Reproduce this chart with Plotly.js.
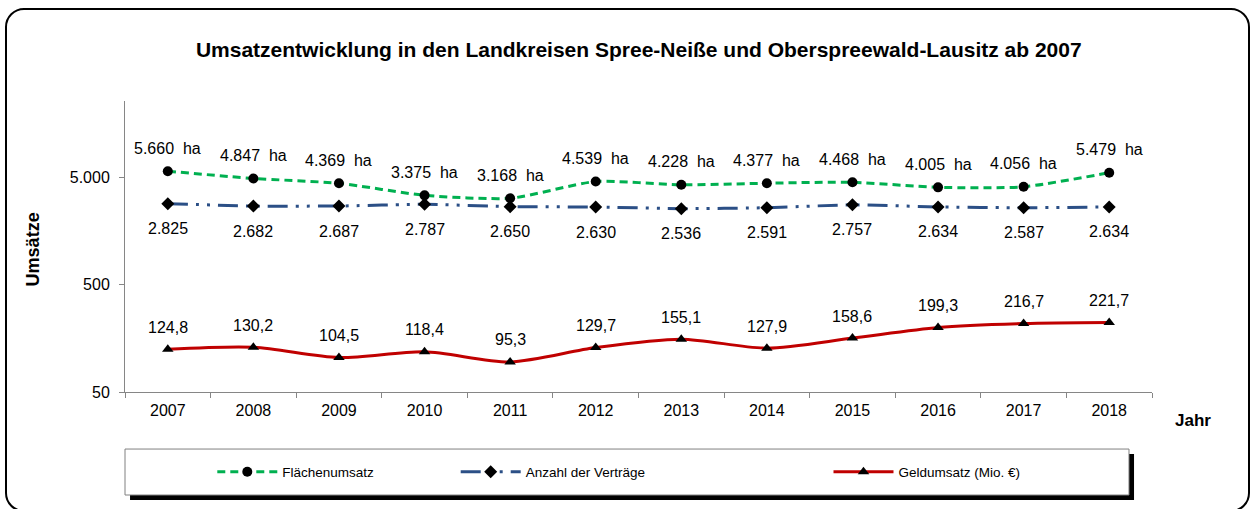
<!DOCTYPE html>
<html>
<head>
<meta charset="utf-8">
<script src="https://cdn.plot.ly/plotly-3.0.1.min.js"></script>
<style>
  html, body { margin: 0; padding: 0; background: #fff; }
  #wrap { position: relative; width: 1250px; height: 509px; overflow: hidden; }
  #chart { position: absolute; left: 0; top: 0; width: 1250px; height: 509px; }
  #frame { position: absolute; left: 5px; top: 8px; width: 1245px; height: 504px; box-sizing: border-box;
           border: 2px solid #000; border-radius: 19px; pointer-events: none; }
</style>
</head>
<body>
<div id="wrap">
  <div id="chart"></div>
  <div id="frame"></div>
</div>
<script>
const years = ['2007','2008','2009','2010','2011','2012','2013','2014','2015','2016','2017','2018'];
const flaechenumsatz = [5660, 4847, 4369, 3375, 3168, 4539, 4228, 4377, 4468, 4005, 4056, 5479];
const anzahlVertraege = [2825, 2682, 2687, 2787, 2650, 2630, 2536, 2591, 2757, 2634, 2587, 2634];
const geldumsatz = [124.8, 130.2, 104.5, 118.4, 95.3, 129.7, 155.1, 127.9, 158.6, 199.3, 216.7, 221.7];
const yTickVals = [50, 500, 5000];
const yTickText = ['50', '500', '5.000'];
const seriesNames = ['Flächenumsatz', 'Anzahl der Verträge', 'Geldumsatz (Mio. €)'];

const FONT = 'Arial, "Liberation Sans", sans-serif';

function fmtThousands(v) {
  const s = String(Math.round(v));
  if (s.length <= 3) return s;
  return s.slice(0, s.length - 3) + '.' + s.slice(s.length - 3);
}
function fmtDecimal(v) { return v.toFixed(1).replace('.', ','); }

const traces = [
  {
    x: years, y: flaechenumsatz, name: seriesNames[0], type: 'scatter', mode: 'lines+markers',
    line: { color: '#00B050', width: 3, dash: '8px,5px', shape: 'spline', smoothing: 0.6 },
    marker: { symbol: 'circle', size: 10, color: '#000' },
    legend: 'legend', hoverinfo: 'skip'
  },
  {
    x: years, y: anzahlVertraege, name: seriesNames[1], type: 'scatter', mode: 'lines+markers',
    line: { color: '#2B4F86', width: 3, dash: '20px,8px,3px,8px,3px,8px', shape: 'spline', smoothing: 0.4 },
    marker: { symbol: 'diamond', size: 10, color: '#000' },
    legend: 'legend2', hoverinfo: 'skip'
  },
  {
    x: years, y: geldumsatz, name: seriesNames[2], type: 'scatter', mode: 'lines+markers',
    line: { color: '#C00000', width: 3, shape: 'spline', smoothing: 0.8 },
    marker: { symbol: 'triangle-up', size: 10, color: '#000' },
    legend: 'legend3', hoverinfo: 'skip'
  }
];

const LBL = { family: FONT, size: 16, color: '#000' };
const annotations = [];
years.forEach((yr, i) => {
  annotations.push({ x: i, y: Math.log10(flaechenumsatz[i]), xref: 'x', yref: 'y',
    text: fmtThousands(flaechenumsatz[i]) + '&nbsp;&nbsp;ha', showarrow: false, yshift: 23, font: LBL });
  annotations.push({ x: i, y: Math.log10(anzahlVertraege[i]), xref: 'x', yref: 'y',
    text: fmtThousands(anzahlVertraege[i]), showarrow: false, yshift: -25, font: LBL });
  annotations.push({ x: i, y: Math.log10(geldumsatz[i]), xref: 'x', yref: 'y',
    text: fmtDecimal(geldumsatz[i]), showarrow: false, yshift: 22, font: LBL });
});
annotations.push({ text: '<b>Umsätze</b>', xref: 'paper', yref: 'paper', x: -0.0896, y: 0.49,
  xanchor: 'center', yanchor: 'middle',
  textangle: -90, showarrow: false, font: { family: FONT, size: 18, color: '#000' } });
annotations.push({ text: '<b>Jahr</b>', xref: 'paper', yref: 'paper', x: 1.0402, y: -0.099,
  xanchor: 'center', yanchor: 'middle',
  showarrow: false, font: { family: FONT, size: 17, color: '#000' } });

// legend box (paper coords: x = (px-125)/1027, y = (392-py)/291)
const shapes = [
  { type: 'rect', xref: 'paper', yref: 'paper', x0: 0.0049, x1: 0.9825, y0: -0.371, y1: -0.213,
    fillcolor: '#000', line: { width: 0 } },
  { type: 'rect', xref: 'paper', yref: 'paper', x0: 0, x1: 0.9776, y0: -0.354, y1: -0.196,
    fillcolor: '#fff', line: { color: '#808080', width: 1 } }
];

const legendBase = { orientation: 'h', yanchor: 'middle', y: -0.275, xanchor: 'left',
  bgcolor: 'rgba(0,0,0,0)', borderwidth: 0, itemwidth: 60,
  font: { family: FONT, size: 13.5, color: '#000' } };

const layout = {
  width: 1250, height: 509,
  margin: { l: 125, r: 98, t: 101, b: 117 },
  paper_bgcolor: '#fff', plot_bgcolor: '#fff',
  font: { family: FONT, size: 16, color: '#000' },
  title: { text: '<b>Umsatzentwicklung in den Landkreisen Spree-Neiße und Oberspreewald-Lausitz ab 2007</b>',
    font: { family: FONT, size: 21, color: '#000' }, xref: 'container', x: 0.511, xanchor: 'center',
    yref: 'container', y: 0.902, yanchor: 'middle' },
  xaxis: { type: 'category', range: [-0.5, 11.5], showline: true, linecolor: '#868686', linewidth: 1,
    ticks: 'outside', tickson: 'boundaries', ticklen: 5, tickcolor: '#868686', showgrid: false, zeroline: false,
    ticklabelstandoff: 4,
    tickfont: { family: FONT, size: 16, color: '#000' }, fixedrange: true },
  yaxis: { type: 'log', range: [Math.log10(50), 4.406], showline: true, linecolor: '#868686', linewidth: 1,
    ticks: 'outside', ticklen: 5, tickcolor: '#868686', showgrid: false, zeroline: false,
    tickvals: yTickVals, ticktext: yTickText, ticklabelstandoff: 6,
    tickfont: { family: FONT, size: 16, color: '#000' }, fixedrange: true },
  showlegend: true,
  legend: Object.assign({}, legendBase, { x: 0.085 }),
  legend2: Object.assign({}, legendBase, { x: 0.322 }),
  legend3: Object.assign({}, legendBase, { x: 0.685 }),
  annotations: annotations,
  shapes: shapes
};

Plotly.newPlot('chart', traces, layout, { displayModeBar: false, staticPlot: true });
</script>
</body>
</html>
